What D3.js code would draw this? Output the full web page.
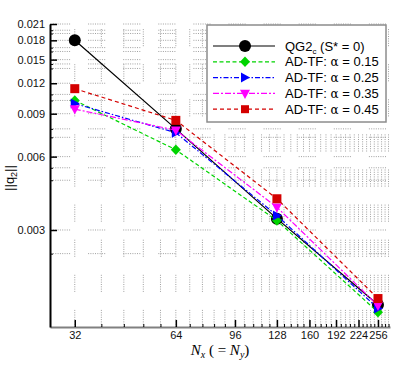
<!DOCTYPE html>
<html>
<head>
<meta charset="utf-8">
<script src="https://cdn.jsdelivr.net/npm/d3@7"></script>
<style>
  body { margin: 0; background: #fff; }
  svg { display: block; font-family: Arial, "Liberation Sans", sans-serif; }
  .grid line { stroke: #a0a0a0; stroke-width: 1;
    stroke-dasharray: 1,1.3,1,1.3,1,1.3,1,1.3,1,1.3,1,1.3,1,1.3,1,18; }
</style>
</head>
<body>
<svg width="415" height="369"></svg>
<script>
// grid resolutions and error norms
const resolutions = [32, 64, 128, 256];
const qg2c = [0.018, 0.0078, 0.00334, 0.00148];
const adtf015 = [0.0102, 0.0064, 0.00328, 0.00138];
const adtf025 = [0.0099, 0.00752, 0.00344, 0.00143];
const adtf035 = [0.0094, 0.0077, 0.00372, 0.00147];
const adtf045 = [0.0114, 0.00845, 0.00403, 0.00157];

const xMajor = [32, 64, 96, 128, 160, 192, 224, 256];
const yMajor = [0.003, 0.006, 0.009, 0.012, 0.015, 0.018, 0.021];
const yMinor = [0.0024, 0.0048, 0.0054, 0.0072, 0.0078, 0.0102, 0.0108,
  0.0138, 0.0144, 0.0162, 0.0168, 0.0192, 0.0198];

const series = [
  { name: "QG2c", values: qg2c, color: "#000", dash: null, shape: "circle" },
  { name: "0.15", values: adtf015, color: "#00d400", dash: "4,2.5", shape: "diamond" },
  { name: "0.25", values: adtf025, color: "#0000ff", dash: "5,2,1.5,2", shape: "triRight" },
  { name: "0.35", values: adtf035, color: "#ff00ff", dash: "6,2,2,2", shape: "triDown" },
  { name: "0.45", values: adtf045, color: "#d40000", dash: "4,3", shape: "square" }
];

const L = 50, R = 390, T = 24, B = 327;
const svg = d3.select("svg");

const x = d3.scaleLog().domain([27, 278]).range([L, R]);
const y = d3.scaleLog().domain([0.0012, 0.021]).range([B, T]);

// minor x ticks every 6.4 between the majors
const xMinor = d3.range(1, 39).map(k => 32 + 6.4 * k)
  .filter((v, i) => (i + 1) % 5 !== 0 && v < 278);

// grid
const grid = svg.append("g").attr("class", "grid");
grid.selectAll(".gx").data(xMajor.concat(xMinor)).enter().append("line")
  .attr("x1", d => x(d)).attr("x2", d => x(d)).attr("y1", B).attr("y2", T);
grid.selectAll(".gy").data(yMajor.concat(yMinor)).enter().append("line")
  .attr("y1", d => y(d)).attr("y2", d => y(d)).attr("x1", L + 3).attr("x2", R);

// axes
const xAxis = svg.append("g").attr("transform", `translate(0,${B})`)
  .call(d3.axisBottom(x).tickValues(xMajor).tickFormat(d3.format("d"))
    .tickSizeInner(-7).tickSizeOuter(0).tickPadding(4));
svg.append("g").attr("transform", `translate(0,${B})`)
  .call(d3.axisBottom(x).tickValues(xMinor).tickFormat("")
    .tickSizeInner(-3).tickSizeOuter(0))
  .select(".domain").remove();
xAxis.select(".domain").attr("stroke", "#808080").attr("stroke-width", 2);
xAxis.selectAll(".tick line").attr("stroke-width", 1.5);

const yAxis = svg.append("g").attr("transform", `translate(${L},0)`)
  .call(d3.axisLeft(y).tickValues(yMajor).tickFormat(d3.format(".3f"))
    .tickSizeInner(-7).tickSizeOuter(0).tickPadding(5));
svg.append("g").attr("transform", `translate(${L},0)`)
  .call(d3.axisLeft(y).tickValues(yMinor).tickFormat("")
    .tickSizeInner(-3).tickSizeOuter(0))
  .select(".domain").remove();
yAxis.select(".domain").attr("stroke", "#000").attr("stroke-width", 2);
yAxis.selectAll(".tick line").attr("stroke-width", 1.5);

svg.selectAll(".tick text").attr("font-size", 11)
  .attr("font-family", "Arial, 'Liberation Sans', sans-serif").attr("fill", "#111");

// markers
function marker(g, shape, cx, cy, color, s) {
  if (shape === "circle") {
    g.append("circle").attr("cx", cx).attr("cy", cy).attr("r", s).attr("fill", color);
    return;
  }
  let pts;
  if (shape === "square") pts = [[-s, -s], [s, -s], [s, s], [-s, s]];
  if (shape === "diamond") pts = [[0, -s * 1.05], [s, 0], [0, s * 1.05], [-s, 0]];
  if (shape === "triRight") pts = [[-s * 0.8, -s], [s, 0], [-s * 0.8, s]];
  if (shape === "triDown") pts = [[-s, -s * 0.75], [s, -s * 0.75], [0, s * 1.1]];
  g.append("polygon")
    .attr("points", pts.map(p => [cx + p[0], cy + p[1]].join(",")).join(" "))
    .attr("fill", color);
}
const msize = { circle: 6, square: 4.5, diamond: 5, triRight: 5, triDown: 5 };

const line = d3.line().x(d => x(d[0])).y(d => y(d[1]));

series.forEach(s => {
  const pts = resolutions.map((r, i) => [r, s.values[i]]);
  const g = svg.append("g");
  g.append("path").attr("d", line(pts)).attr("fill", "none")
    .attr("stroke", s.color).attr("stroke-width", 1.2)
    .attr("stroke-dasharray", s.dash);
  pts.forEach(p => marker(g, s.shape, x(p[0]), y(p[1]), s.color, msize[s.shape]));
});

// legend
const lg = svg.append("g");
lg.append("rect").attr("x", 207).attr("y", 25).attr("width", 179).attr("height", 97)
  .attr("fill", "#fff").attr("stroke", "#8c8c8c").attr("stroke-width", 1.5);
series.forEach((s, i) => {
  const yy = 46 + i * 15.8;
  lg.append("line").attr("x1", 213).attr("x2", 275).attr("y1", yy).attr("y2", yy)
    .attr("stroke", s.color).attr("stroke-width", 1.2).attr("stroke-dasharray", s.dash);
  marker(lg, s.shape, 245, yy, s.color, s.shape === "square" ? 4 : msize[s.shape]);
  const t = lg.append("text").attr("x", 285).attr("y", yy + 4.5)
    .attr("font-size", 13).attr("fill", "#000");
  if (i === 0) {
    t.append("tspan").text("QG2");
    t.append("tspan").text("c").attr("font-size", 8).attr("dy", 3);
    t.append("tspan").text(" (S* = 0)").attr("dy", -3);
  } else {
    t.append("tspan").text("AD-TF: ");
    t.append("tspan").text("α").attr("font-family", "'DejaVu Serif', serif").attr("font-size", 12);
    t.append("tspan").text(" = " + s.name);
  }
});

// axis titles
const yt = svg.append("text").attr("transform", "translate(14,178) rotate(-90)")
  .attr("text-anchor", "middle").attr("font-size", 13).attr("fill", "#000");
yt.append("tspan").text("||q");
yt.append("tspan").text("2").attr("font-size", 9).attr("dy", 3);
yt.append("tspan").text("||").attr("dy", -3);

const xt = svg.append("text").attr("x", 220).attr("y", 355)
  .attr("text-anchor", "middle").attr("font-size", 15).attr("fill", "#000")
  .attr("font-family", "'Liberation Serif', 'Times New Roman', serif");
xt.append("tspan").text("N").attr("font-style", "italic");
xt.append("tspan").text("x").attr("font-style", "italic").attr("font-size", 10).attr("dy", 3);
xt.append("tspan").text(" ( = ").attr("dy", -3);
xt.append("tspan").text("N").attr("font-style", "italic");
xt.append("tspan").text("y").attr("font-style", "italic").attr("font-size", 10).attr("dy", 3);
xt.append("tspan").text(")").attr("dy", -3);
</script>
</body>
</html>
